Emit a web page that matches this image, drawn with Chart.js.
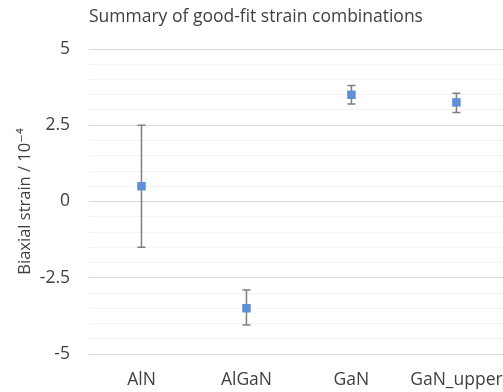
<!DOCTYPE html>
<html>
<head>
<meta charset="utf-8">
<script src="https://cdn.jsdelivr.net/npm/chart.js@4/dist/chart.umd.min.js"></script>
<style>
  html, body { margin: 0; padding: 0; background: #fff; overflow: hidden; width: 503px; height: 392px; }
  canvas { display: block; }
</style>
</head>
<body>
<canvas id="strainChart" width="520" height="392"></canvas>
<script>
const categories = ['AlN', 'AlGaN', 'GaN', 'GaN_upper'];
const strain = [0.5, -3.5, 3.5, 3.25];
const errUpper = [2.0, 0.6, 0.3, 0.3];
const errLower = [2.0, 0.55, 0.3, 0.33];
const yTickLabels = [-5, -2.5, 0, 2.5, 5];

const textColor = '#404040';
const fontFamily = '"Open Sans", "DejaVu Sans", sans-serif';

// error bars drawn under the markers, positioned with the chart's own scales
const errorBars = {
    id: 'errorBars',
    beforeDatasetsDraw(chart) {
        const { ctx, scales: { x, y } } = chart;
        ctx.save();
        ctx.strokeStyle = '#7f7f7f';
        ctx.lineWidth = 1.5;
        strain.forEach((v, i) => {
            const px = x.getPixelForValue(i);
            const top = y.getPixelForValue(v + errUpper[i]);
            const bot = y.getPixelForValue(v - errLower[i]);
            ctx.beginPath();
            ctx.moveTo(px, top); ctx.lineTo(px, bot);
            ctx.moveTo(px - 4, top); ctx.lineTo(px + 4, top);
            ctx.moveTo(px - 4, bot); ctx.lineTo(px + 4, bot);
            ctx.stroke();
        });
        ctx.restore();
    }
};

const ctx = document.getElementById('strainChart').getContext('2d');
new Chart(ctx, {
    type: 'line',
    data: {
        labels: categories,
        datasets: [{
            label: 'Biaxial strain',
            data: strain,
            showLine: false,
            pointStyle: 'rect',
            pointRadius: 6,
            pointHoverRadius: 6,
            backgroundColor: '#5b8fdd',
            borderColor: '#5b8fdd',
            pointBorderWidth: 0
        }]
    },
    options: {
        responsive: false,
        animation: false,
        layout: { padding: { top: 1, right: 1, bottom: 0, left: 0 } },
        plugins: {
            legend: { display: false },
            tooltip: { enabled: false },
            title: {
                display: true,
                text: 'Summary of good-fit strain combinations',
                align: 'start',
                fullSize: false,
                color: textColor,
                font: { family: fontFamily, size: 17.5, weight: 'normal' },
                padding: { top: 6, bottom: 21 }
            }
        },
        scales: {
            x: {
                offset: true,
                afterFit(scale) { scale.height = 38; },
                grid: { display: false, drawTicks: false },
                border: { display: false },
                ticks: {
                    color: textColor,
                    font: { family: fontFamily, size: 17.5 },
                    padding: 16
                }
            },
            y: {
                min: -5,
                max: 5,
                afterFit(scale) { scale.width = 89; },
                border: { display: false },
                grid: {
                    drawTicks: false,
                    lineWidth: 1,
                    color: c => yTickLabels.includes(c.tick.value) ? '#d9d9d9' : '#f3f3f3'
                },
                ticks: {
                    stepSize: 0.5,
                    autoSkip: false,
                    padding: 19,
                    color: textColor,
                    font: { family: fontFamily, size: 17.5 },
                    callback: v => yTickLabels.includes(v) ? String(v) : ''
                },
                title: {
                    display: true,
                    text: 'Biaxial strain / 10⁻⁴',
                    color: textColor,
                    font: { family: fontFamily, size: 16.5 },
                    padding: { top: 15, bottom: 0 }
                }
            }
        }
    },
    plugins: [errorBars]
});
</script>
</body>
</html>
